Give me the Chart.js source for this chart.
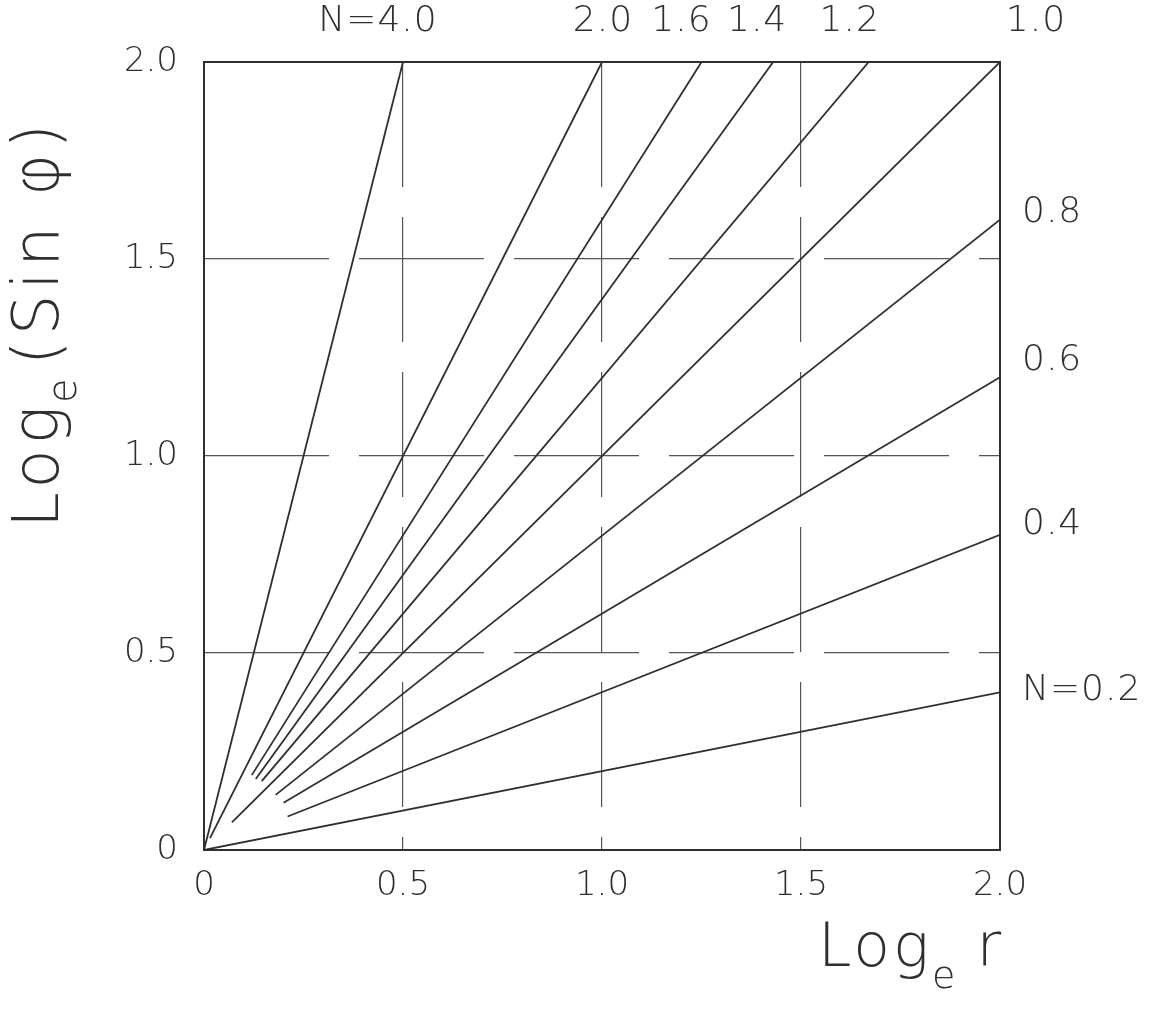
<!DOCTYPE html>
<html>
<head>
<meta charset="utf-8">
<script src="https://cdn.jsdelivr.net/npm/chart.js@4/dist/chart.umd.min.js"></script>
<style>
  html, body { margin: 0; padding: 0; background: #fff; }
  #wrap { width: 1168px; height: 1012px; position: relative; }
</style>
</head>
<body>
<div id="wrap"><canvas id="chart"></canvas></div>
<script>
// 数据：每条线 y = N·x 的起点和终点
const nLabels = ['4.0', '2.0', '1.6', '1.4', '1.2', '1.0', '0.8', '0.6', '0.4', '0.2'];
const startX = [0.0, 0.015, 0.12, 0.13, 0.145, 0.07, 0.18, 0.2, 0.21, 0.0];
const startY = [0.0, 0.03, 0.19, 0.18, 0.175, 0.07, 0.14, 0.12, 0.085, 0.0];
const endX   = [0.5, 1.0, 1.25, 1.43, 1.67, 2.0, 2.0, 2.0, 2.0, 2.0];
const endY   = [2.0, 2.0, 2.0, 2.0, 2.0, 2.0, 1.6, 1.2, 0.8, 0.4];
const tickValues = [0, 0.5, 1.0, 1.5, 2.0];

// 标签文字及相对线端点的偏移（像素）
const labelText = ['N=4.0', '2.0', '1.6', '1.4', '1.2', '1.0', '0.8', '0.6', '0.4', 'N=0.2'];
const labelDx = [-25, 1, -20, -16, -19, 36, 22, 22, 22, 22];
const labelDy = [0, 0, 0, 0, 0, 0, -7, -17, -10, -2];

const FONT = '"DejaVu Sans", "Liberation Sans", sans-serif';
const INK = '#2f2f2f';

const datasets = nLabels.map((n, i) => ({
    label: 'N = ' + n,
    data: [{ x: startX[i], y: startY[i] }, { x: endX[i], y: endY[i] }],
    borderColor: INK,
    borderWidth: 1.8,
    pointRadius: 0,
    fill: false,
    tension: 0
}));

// 边框 + 线标签 + 坐标轴标题
const annotatePlugin = {
    id: 'annotate',
    afterDatasetsDraw(chart) {
        const { ctx, chartArea, scales } = chart;
        ctx.save();
        ctx.strokeStyle = INK;
        ctx.lineWidth = 2;
        ctx.strokeRect(chartArea.left, chartArea.top,
            chartArea.right - chartArea.left, chartArea.bottom - chartArea.top);

        ctx.fillStyle = INK;
        ctx.font = '200 36px ' + FONT;
        ctx.letterSpacing = '1px';
        ctx.textBaseline = 'middle';
        nLabels.forEach((n, i) => {
            const px = scales.x.getPixelForValue(endX[i]);
            const py = scales.y.getPixelForValue(endY[i]);
            if (endY[i] >= 2.0) {
                // 顶部标签
                ctx.textAlign = 'center';
                ctx.fillText(labelText[i], px + labelDx[i], 22 + labelDy[i]);
            } else {
                ctx.textAlign = 'left';
                ctx.fillText(labelText[i], px + labelDx[i], py + labelDy[i]);
            }
        });

        // x 轴标题 Log_e r
        ctx.textAlign = 'left';
        ctx.textBaseline = 'alphabetic';
        ctx.letterSpacing = '3px';
        ctx.font = '200 60px ' + FONT;
        let x0 = 818, y0 = 966;
        ctx.fillText('Log', x0, y0);
        let w = ctx.measureText('Log').width;
        ctx.font = '200 38px ' + FONT;
        ctx.fillText('e', x0 + w, y0 + 22);
        let we = ctx.measureText('e').width;
        ctx.font = '200 60px ' + FONT;
        ctx.fillText('r', x0 + w + we + 18, y0);

        // y 轴标题 Log_e (Sin φ)
        ctx.translate(58, 528);
        ctx.rotate(-Math.PI / 2);
        ctx.letterSpacing = '5px';
        ctx.font = '200 64px ' + FONT;
        ctx.fillText('Log', 0, 0);
        w = ctx.measureText('Log').width;
        ctx.font = '200 40px ' + FONT;
        ctx.fillText('e', w - 2, 18);
        we = ctx.measureText('e').width;
        ctx.font = '200 64px ' + FONT;
        ctx.fillText('(Sin φ)', w + we + 6, 0);
        ctx.restore();
    }
};

const tickFmt = v => (v === 0 ? '0' : v.toFixed(1));

new Chart(document.getElementById('chart'), {
    type: 'line',
    data: { datasets },
    options: {
        responsive: true,
        maintainAspectRatio: false,
        animation: false,
        layout: { padding: { top: 62, right: 168, left: 0, bottom: 0 } },
        plugins: { legend: { display: false }, tooltip: { enabled: false } },
        scales: {
            x: {
                type: 'linear',
                min: 0, max: 2,
                afterBuildTicks: s => { s.ticks = tickValues.map(v => ({ value: v })); },
                afterFit: s => { s.height = 162; },
                ticks: { callback: tickFmt, padding: 16, color: INK, font: { family: FONT, size: 34, weight: '200' } },
                grid: { color: '#555', lineWidth: 1.2, drawTicks: false },
                border: { display: false, dash: [125, 30] }
            },
            y: {
                type: 'linear',
                min: 0, max: 2,
                afterBuildTicks: s => { s.ticks = tickValues.map(v => ({ value: v })); },
                afterFit: s => { s.width = 204; },
                ticks: { callback: tickFmt, padding: 26, color: INK, font: { family: FONT, size: 34, weight: '200' } },
                grid: { color: '#555', lineWidth: 1.2, drawTicks: false },
                border: { display: false, dash: [125, 30] }
            }
        }
    },
    plugins: [annotatePlugin]
});
</script>
</body>
</html>
